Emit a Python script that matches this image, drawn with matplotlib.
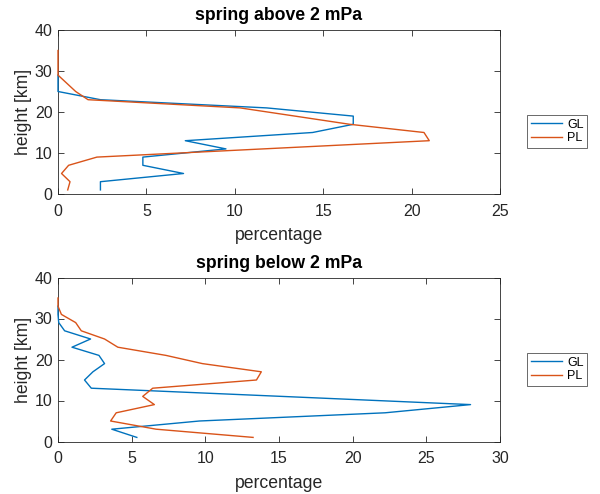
import numpy as np
import matplotlib
matplotlib.use("Agg")
import matplotlib.pyplot as plt

nan = np.nan
heights = [1, 3, 5, 7, 9, 11, 13, 15, 17, 19, 21, 23, 25, 27, 29, 31, 33, 35]

above_GL = [2.4, 2.4, 7.1, 4.8, 4.8, 9.5, 7.2, 14.4, 16.7, 16.7, 11.8, 2.4, 0, 0, 0, nan, nan, nan]
above_PL = [0.55, 0.68, 0.2, 0.6, 2.2, 11.6, 21.0, 20.7, 16.5, 13.4, 10.3, 1.7, 1.0, 0.5, 0, 0, 0, 0]

below_GL = [5.35, 3.65, 9.6, 22.2, 28.0, 15.2, 2.26, 1.8, 2.37, 3.16, 2.78, 0.95, 2.21, 0.45, 0.05, 0, 0, nan]
below_PL = [13.24, 6.66, 3.57, 3.95, 6.54, 5.75, 6.43, 13.47, 13.8, 9.8, 7.33, 4.06, 3.16, 1.58, 1.2, 0.23, 0, 0]

titles = ["spring above 2 mPa", "spring below 2 mPa"]
xlims = [25, 30]
series = [(above_GL, above_PL), (below_GL, below_PL)]

plt.rcParams['font.family'] = ['Liberation Sans', 'DejaVu Sans']
blue = '#0072BD'
orange = '#D95319'
axc = '#262626'

fig = plt.figure(figsize=(6.0, 4.94), dpi=100)
positions = [[58/600, 1-194/494, 442/600, 164/494],
             [58/600, 1-441.5/494, 442/600, 164/494]]
leg_y = [1-131.5/494, 1-369.5/494]

for i in range(2):
    ax = fig.add_axes(positions[i])
    gl, pl = series[i]
    ax.plot(gl, heights, color=blue, lw=1.0, label='GL', clip_on=False, zorder=3)
    ax.plot(pl, heights, color=orange, lw=1.0, label='PL', clip_on=False, zorder=3)
    ax.set_xlim(0, xlims[i])
    ax.set_ylim(0, 40)
    ax.set_xticks(np.arange(0, xlims[i] + 1, 5))
    ax.set_yticks([0, 10, 20, 30, 40])
    ax.tick_params(direction='in', top=True, right=True, length=4, width=0.6,
                   labelsize=11.5, colors=axc)
    ax.tick_params(axis='x', pad=7)
    ax.tick_params(axis='y', pad=4)
    for s in ax.spines.values():
        s.set_color(axc)
        s.set_linewidth(0.6)
    ax.set_xlabel('percentage', fontsize=12.7, color=axc, labelpad=6)
    ax.set_ylabel('height [km]', fontsize=12.7, color=axc, labelpad=2)
    ax.set_title(titles[i], fontsize=12.7, fontweight='bold', color='black', pad=7)
    leg = ax.legend(loc='center left', bbox_to_anchor=(527/600, leg_y[i]),
                    bbox_transform=fig.transFigure, fontsize=9, frameon=True,
                    fancybox=False, edgecolor=axc, handlelength=2.5,
                    borderpad=0.3, labelspacing=0.15, handletextpad=0.4,
                    borderaxespad=0)
    leg.get_frame().set_linewidth(0.6)

fig.savefig('out.png', dpi=100, facecolor='white')
